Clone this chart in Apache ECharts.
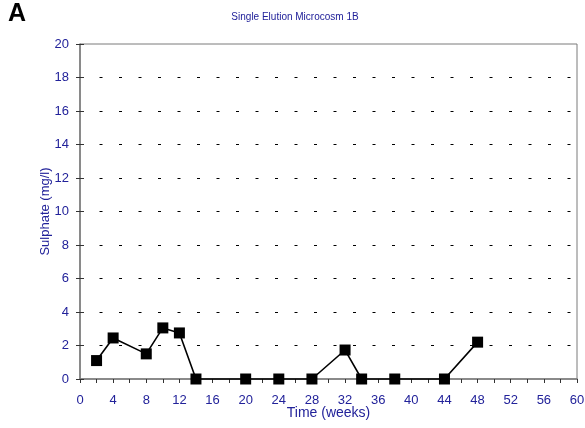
<!DOCTYPE html>
<html>
<head>
<meta charset="utf-8">
<script src="https://cdn.jsdelivr.net/npm/echarts@6/dist/echarts.min.js"></script>
<style>
  html, body { margin: 0; padding: 0; background: #fff; }
  #chart { width: 585px; height: 428px; }
</style>
</head>
<body>
<div id="chart"></div>
<script>
// Sulphate concentration over time, single elution microcosm 1B
const weeks = [2, 4, 8, 10, 12, 14, 20, 24, 28, 32, 34, 38, 44, 48];
const sulphate = [1.1, 2.45, 1.5, 3.05, 2.75, 0, 0, 0, 0, 1.73, 0, 0, 0, 2.2];

const panelLabel = 'A';
const chartTitle = 'Single Elution Microcosm 1B';
const xName = 'Time (weeks)';
const yName = 'Sulphate (mg/l)';

const navy = '#22229a';
const axisGray = '#7a7a7a';
const font = 'Liberation Sans, Arial, sans-serif';

const chart = echarts.init(document.getElementById('chart'), null, { renderer: 'canvas' });

const points = weeks.map((w, i) => [w, sulphate[i]]);

chart.setOption({
  animation: false,
  backgroundColor: '#fff',
  title: [
    {
      text: panelLabel,
      left: 8, top: 2, padding: 0,
      textStyle: { fontFamily: font, fontSize: 25, fontWeight: 'bold', color: '#000' }
    },
    {
      text: chartTitle,
      left: 295, top: 12, textAlign: 'center', padding: 0,
      textStyle: { fontFamily: font, fontSize: 10, fontWeight: 'normal', color: navy }
    }
  ],
  grid: {
    left: 80, right: 8, top: 44, bottom: 49,
    outerBoundsMode: 'none',
    containLabel: false,
    show: true, borderColor: axisGray, borderWidth: 1, backgroundColor: 'transparent'
  },
  xAxis: {
    type: 'value', min: 0, max: 60, interval: 4,
    name: xName, nameLocation: 'middle', nameGap: 27, nameMoveOverlap: false,
    nameTextStyle: { fontFamily: font, fontSize: 14, color: navy },
    axisLine: { show: true, lineStyle: { color: axisGray, width: 1.5 } },
    axisTick: { show: true, length: 4, lineStyle: { color: '#333' } },
    minorTick: { show: true, splitNumber: 2, length: 4, lineStyle: { color: '#333' } },
    axisLabel: { fontFamily: font, fontSize: 13, color: navy, margin: 15 },
    splitLine: { show: false }
  },
  yAxis: [
    {
      type: 'value', min: 0, max: 20, interval: 2,
      name: yName, nameLocation: 'middle', nameGap: 28, nameMoveOverlap: false,
      nameTextStyle: { fontFamily: font, fontSize: 13, color: navy },
      axisLine: { show: true, lineStyle: { color: axisGray, width: 1.5 } },
      axisTick: { show: true, length: 4, lineStyle: { color: '#333' } },
      axisLabel: { fontFamily: font, fontSize: 13, color: navy, margin: 11 },
      splitLine: {
        show: true,
        showMinLine: false,
        showMaxLine: false,
        lineStyle: { color: '#000', width: 1, type: [3, 16.5] }
      }
    },
    {
      // inner half of the crossing tick marks on the y axis
      type: 'value', min: 0, max: 20, interval: 2, position: 'left',
      axisLine: { show: false },
      axisTick: { show: true, inside: true, length: 4, lineStyle: { color: '#333' } },
      axisLabel: { show: false },
      splitLine: { show: false }
    }
  ],
  series: [
    {
      type: 'line',
      data: points,
      symbol: 'rect',
      symbolSize: 11,
      itemStyle: { color: '#000' },
      lineStyle: { color: '#000', width: 1.6 },
      clip: false
    }
  ]
});
</script>
</body>
</html>
